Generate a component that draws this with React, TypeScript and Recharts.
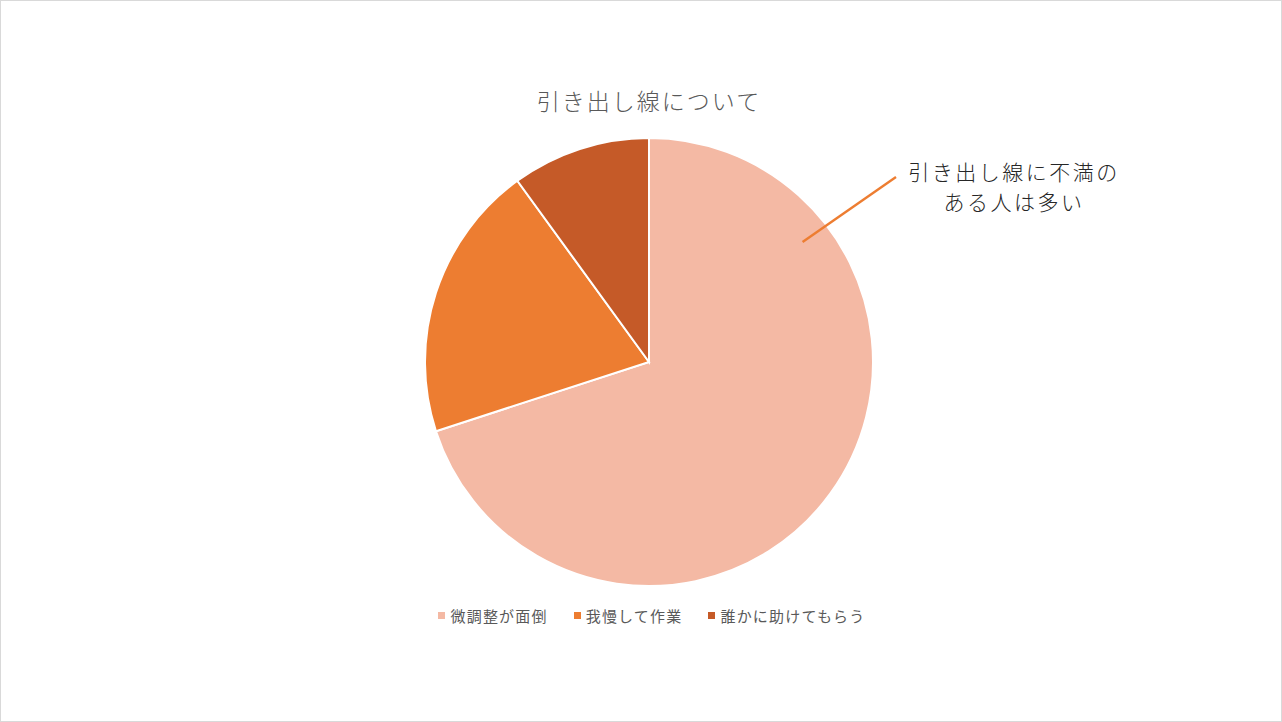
import { PieChart, Pie, Cell, Legend } from "recharts";

const categories = ["微調整が面倒", "我慢して作業", "誰かに助けてもらう"];
const shares = [70, 20, 10];
const colors = ["#F4B9A4", "#ED7D31", "#C55A28"];

const title = "引き出し線について";
const calloutLines = ["引き出し線に不満の", "ある人は多い"];

const data = categories.map((name, i) => ({ name, value: shares[i] }));

const W = 1282;
const H = 722;
const CX = 649;
const CY = 362;
const R = 224;

const jpFont = '"Noto Sans CJK JP", "Noto Sans", sans-serif';

function renderLegend(props: any) {
  const { payload } = props;
  return (
    <div
      style={{
        display: "flex",
        justifyContent: "center",
        gap: 26,
        paddingLeft: 22,
        fontFamily: jpFont,
        fontSize: 15,
        letterSpacing: 1.2,
        color: "#595959",
      }}
    >
      {payload.map((entry: any, i: number) => (
        <div key={`leg-${i}`} style={{ display: "flex", alignItems: "center" }}>
          <span
            style={{
              display: "inline-block",
              width: 7,
              height: 7,
              background: entry.color,
              marginRight: 5,
            }}
          />
          <span>{entry.value}</span>
        </div>
      ))}
    </div>
  );
}

// callout pointing into the largest slice, drawn above the pie
function Callout() {
  const ang = (38 * Math.PI) / 180;
  const x1 = CX + R * 0.87 * Math.cos(ang);
  const y1 = CY - R * 0.87 * Math.sin(ang);
  const x2 = 896;
  const y2 = 177;
  return (
    <svg
      width={W}
      height={H}
      style={{ position: "absolute", left: -1, top: -1, pointerEvents: "none" }}
    >
      <line x1={x1} y1={y1} x2={x2} y2={y2} stroke="#ED7D31" strokeWidth={2.5} />
      {calloutLines.map((t, i) => (
        <text
          key={i}
          x={1014}
          y={180 + i * 30}
          textAnchor="middle"
          fontFamily={jpFont}
          fontWeight={300}
          fontSize={21}
          letterSpacing={2.5}
          fill="#262626"
        >
          {t}
        </text>
      ))}
    </svg>
  );
}

export default function App() {
  return (
    <div
      style={{
        position: "absolute",
        left: 0,
        top: 0,
        width: W,
        height: H,
        boxSizing: "border-box",
        border: "1px solid #D9D9D9",
        background: "#fff",
      }}
    >
      <PieChart width={W - 2} height={H - 2} margin={{ top: 0, right: 0, bottom: 0, left: 0 }}>
        <text
          x={CX - 1}
          y={109}
          textAnchor="middle"
          fontFamily={jpFont}
          fontWeight={300}
          fontSize={23}
          letterSpacing={2}
          fill="#595959"
        >
          {title}
        </text>
        <Pie
          data={data}
          dataKey="value"
          nameKey="name"
          cx={CX - 1}
          cy={CY - 1}
          outerRadius={R}
          startAngle={90}
          endAngle={-270}
          stroke="#fff"
          strokeWidth={2}
          isAnimationActive={false}
        >
          {data.map((d, i) => (
            <Cell key={`cell-${i}`} fill={colors[i]} />
          ))}
        </Pie>
        <Legend
          content={renderLegend}
          verticalAlign="middle"
          align="center"
          wrapperStyle={{ top: 604, left: 0, width: W - 2 }}
        />
      </PieChart>
      <Callout />
    </div>
  );
}
